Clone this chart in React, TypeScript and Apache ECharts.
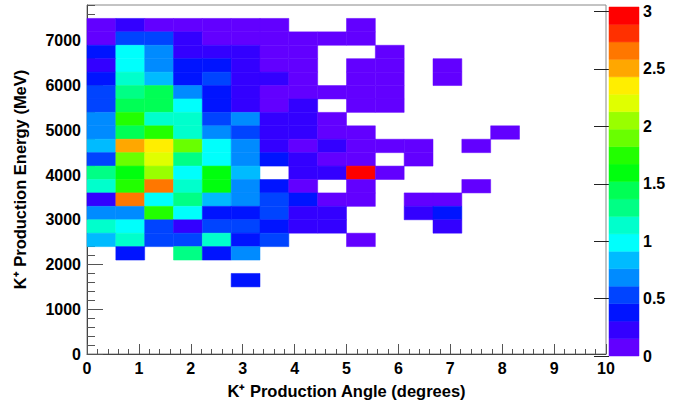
import React, { useEffect, useRef } from "react";
import * as echarts from "echarts";

// Histogram binning (ROOT TH2): 18 angle bins over 0..10 deg, 300 MeV energy bins up to 7800
const ANGLE_MAX = 10;
const ANGLE_BINS = 18;
const ENERGY_MAX = 7800;
const ENERGY_BIN = 300;
const Z_MAX = 3.04;

// lower energy edge of each listed row (top to bottom)
const rowEnergyLow = [
  7200, 6900, 6600, 6300, 6000, 5700, 5400, 5100, 4800, 4500, 4200, 3900, 3600,
  3300, 3000, 2700, 2400, 2100, 1500,
];

const _ = null;
// bin contents, one array per energy row, 18 angle bins each
const binValues: (number | null)[][] = [
  [0.08, 0.23, 0.08, 0.08, 0.08, 0.08, 0.08, _, _, 0.08, _, _, _, _, _, _, _, _],
  [0.08, 0.53, 0.53, 0.23, 0.08, 0.08, 0.08, 0.08, 0.08, 0.08, _, _, _, _, _, _, _, _],
  [0.38, 0.99, 0.68, 0.23, 0.23, 0.23, 0.08, 0.08, _, _, 0.08, _, _, _, _, _, _, _],
  [0.23, 0.99, 0.68, 0.38, 0.38, 0.23, 0.08, 0.08, _, 0.08, 0.08, _, 0.08, _, _, _, _, _],
  [0.38, 1.14, 0.84, 0.38, 0.53, 0.23, 0.23, 0.08, _, 0.08, 0.08, _, 0.08, _, _, _, _, _],
  [0.53, 1.29, 1.44, 0.68, 0.38, 0.23, 0.08, 0.08, 0.08, 0.08, 0.08, _, _, _, _, _, _, _],
  [0.53, 1.44, 1.44, 0.99, 0.38, 0.23, 0.08, 0.23, _, 0.08, 0.08, _, _, _, _, _, _, _],
  [0.68, 1.75, 1.14, 1.14, 0.53, 0.68, 0.23, 0.23, 0.08, _, _, _, _, _, _, _, _, _],
  [0.68, 1.44, 1.75, 1.14, 0.68, 0.53, 0.23, 0.23, 0.08, 0.08, _, _, _, _, 0.08, _, _, _],
  [0.84, 2.51, 2.36, 1.9, 0.99, 0.68, 0.23, 0.08, 0.23, 0.08, 0.08, 0.08, _, 0.08, _, _, _, _],
  [0.53, 1.9, 2.2, 1.29, 0.99, 0.68, 0.38, 0.23, 0.08, 0.08, _, 0.08, _, _, _, _, _, _],
  [1.29, 1.6, 2.05, 0.99, 1.6, 0.84, _, 0.23, 0.23, 3.04, 0.08, _, _, _, _, _, _, _],
  [1.14, 1.75, 2.66, 1.14, 1.6, 0.68, 0.38, 0.08, _, 0.08, _, _, _, 0.08, _, _, _, _],
  [0.23, 2.66, 0.99, 1.29, 0.84, 0.68, 0.53, 0.38, 0.08, 0.08, _, 0.08, 0.08, _, _, _, _, _],
  [0.68, 0.68, 1.75, 0.99, 0.38, 0.38, 0.53, 0.23, 0.23, _, _, 0.23, 0.38, _, _, _, _, _],
  [1.14, 0.99, 0.53, 0.23, 0.53, 0.53, 0.38, 0.23, 0.23, _, _, _, 0.23, _, _, _, _, _],
  [0.84, 1.14, 0.53, 0.53, 1.14, 0.38, 0.53, _, _, 0.08, _, _, _, _, _, _, _, _],
  [_, 0.38, _, 1.29, 0.38, 0.68, _, _, _, _, _, _, _, _, _, _, _, _],
  [_, _, _, _, _, 0.38, _, _, _, _, _, _, _, _, _, _, _, _],
];

// ROOT "pretty" palette, 20 contour levels
const PALETTE = [
  "#6200FF", "#3300FF", "#0014FF", "#0044FF", "#008BFF", "#00BBFF", "#00FFFC",
  "#00FFCC", "#00FF85", "#00FF55", "#00FF0E", "#22FF00", "#69FF00", "#99FF00",
  "#E0FF00", "#FFEE00", "#FFA700", "#FF7700", "#FF3000", "#FF0000",
];

const FONT = "'Liberation Sans', Arial, Helvetica, sans-serif";

function colorFor(v: number) {
  const k = Math.max(0, Math.min(PALETTE.length - 1, Math.floor((v / Z_MAX) * PALETTE.length)));
  return PALETTE[k];
}

export default function App() {
  const ref = useRef<HTMLDivElement>(null);
  useEffect(() => {
    if (!ref.current) return;
    const chart = echarts.init(ref.current, undefined, { renderer: "svg" });
    const w = ANGLE_MAX / ANGLE_BINS;
    const cells: number[][] = [];
    binValues.forEach((row, r) => {
      row.forEach((v, c) => {
        if (v === null) return;
        cells.push([c * w, rowEnergyLow[r], (c + 1) * w, rowEnergyLow[r] + ENERGY_BIN, v]);
      });
    });
    const bands = PALETTE.map((_c, k) => [
      (k * Z_MAX) / PALETTE.length,
      ((k + 1) * Z_MAX) / PALETTE.length,
      k,
    ]);
    const labelStyle = { color: "#000", fontFamily: FONT, fontWeight: "bold" as const, fontSize: 16 };
    const plain = (v: number) => String(v);
    chart.setOption({
      animation: false,
      grid: [
        { left: 87, top: 5, width: 519, height: 350, show: true, borderColor: "#888", borderWidth: 1 },
        { left: 609, top: 7, width: 30, height: 349, show: false },
      ],
      xAxis: [
        {
          type: "value", gridIndex: 0, min: 0, max: ANGLE_MAX, interval: 1,
          axisLine: { lineStyle: { color: "#444" } },
          axisTick: { inside: true, length: 10, lineStyle: { color: "#555" } },
          minorTick: { show: true, splitNumber: 5, length: 5, lineStyle: { color: "#555" } },
          splitLine: { show: false },
          axisLabel: { ...labelStyle, margin: 6, formatter: plain },
          name: "K⁺ Production Angle (degrees)",
          nameLocation: "middle", nameGap: 28,
          nameTextStyle: { ...labelStyle, fontSize: 16.5 },
        },
        { type: "value", gridIndex: 1, min: 0, max: 1, show: false },
      ],
      yAxis: [
        {
          type: "value", gridIndex: 0, min: 0, max: ENERGY_MAX, interval: 1000,
          axisLine: { lineStyle: { color: "#444" } },
          axisTick: { inside: true, length: 16, lineStyle: { color: "#555" } },
          splitLine: { show: false },
          axisLabel: { ...labelStyle, margin: 6, showMaxLabel: false, formatter: plain },
          name: "K⁺ Production Energy (MeV)",
          nameLocation: "middle", nameGap: 59,
          nameTextStyle: { ...labelStyle, fontSize: 16.5 },
        },
        {
          type: "value", gridIndex: 0, position: "left", offset: 0, min: 0, max: ENERGY_MAX, interval: 200,
          axisLine: { show: false },
          axisTick: { inside: true, length: 8, lineStyle: { color: "#555" } },
          axisLabel: { show: false },
          splitLine: { show: false },
        },
        {
          type: "value", gridIndex: 1, position: "right", min: 0, max: Z_MAX, interval: 0.5,
          axisLine: { show: false },
          axisTick: { inside: true, length: 15, lineStyle: { color: "#222" } },
          axisLabel: { ...labelStyle, margin: 4, showMaxLabel: false, formatter: plain },
          splitLine: { show: false },
        },
      ],
      series: [
        {
          type: "custom",
          xAxisIndex: 0,
          yAxisIndex: 0,
          data: cells,
          encode: { x: [0, 2], y: [1, 3] },
          renderItem: (_p: any, api: any) => {
            const a = api.coord([api.value(0), api.value(3)]);
            const b = api.coord([api.value(2), api.value(1)]);
            const col = colorFor(api.value(4));
            return {
              type: "rect",
              shape: { x: a[0], y: a[1], width: b[0] - a[0], height: b[1] - a[1] },
              style: { fill: col, stroke: col, lineWidth: 0.5 },
            };
          },
        },
        {
          type: "custom",
          xAxisIndex: 1,
          yAxisIndex: 2,
          data: bands,
          encode: { y: [0, 1] },
          renderItem: (_p: any, api: any) => {
            const a = api.coord([0, api.value(1)]);
            const b = api.coord([1, api.value(0)]);
            const col = PALETTE[api.value(2)];
            return {
              type: "rect",
              shape: { x: a[0], y: a[1], width: b[0] - a[0], height: b[1] - a[1] },
              style: { fill: col, stroke: col, lineWidth: 0.5 },
            };
          },
          z: 1,
        },
      ],
    });
    return () => chart.dispose();
  }, []);
  return (
    <div
      ref={ref}
      style={{ position: "fixed", left: 0, top: 0, width: 688, height: 404, background: "#fff" }}
    />
  );
}
